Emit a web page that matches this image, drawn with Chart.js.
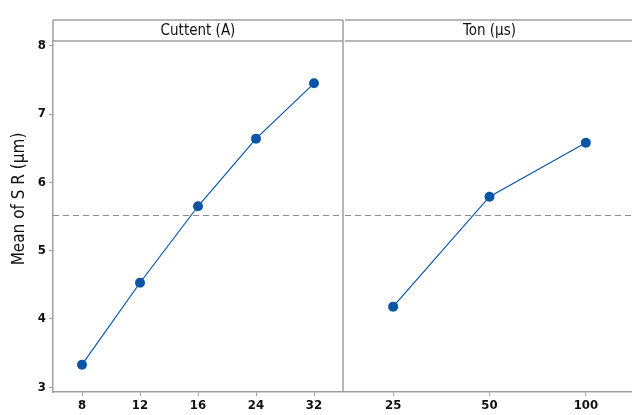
<!DOCTYPE html>
<html>
<head>
<meta charset="utf-8">
<script src="https://cdn.jsdelivr.net/npm/chart.js@4/dist/chart.umd.min.js"></script>
<style>
  html, body { margin: 0; padding: 0; background: #fff; overflow: hidden; }
  #wrap { position: relative; width: 632px; height: 415px; overflow: hidden; }
  canvas { position: absolute; top: 0; }
</style>
</head>
<body>
<div id="wrap">
  <canvas id="canvasTon" width="299" height="415" style="left:340px"></canvas>
  <canvas id="canvasCurrent" width="348" height="415" style="left:0px"></canvas>
</div>
<script>
// data
var currentLabels = ["8", "12", "16", "24", "32"];
var currentMeans = [3.33, 4.53, 5.65, 6.64, 7.45];
var tonLabels = ["25", "50", "100"];
var tonMeans = [4.18, 5.79, 6.58];
var yTicks = [3, 4, 5, 6, 7, 8];
var grandMean = 5.52;
var panelNames = ["Cuttent (A)", "Ton (\u00b5s)"];
var yTitle = "Mean of S R (\u00b5m)";

var go = {};
go.fontFamily = "'DejaVu Sans Condensed', 'Liberation Sans Narrow', sans-serif";
go.gray = "#a0a0a0";
go.blue = "#0b55a5";

// draws the panel frame, the header strip and the dashed grand mean line
var panelPlugin = {
    id: "panel",
    afterDraw: function (chart, args, opts) {
        var ctx = chart.ctx;
        var a = chart.chartArea;
        var y = chart.scales.y;
        var top = a.top - 21;
        ctx.save();

        // mean line
        var ym = y.getPixelForValue(grandMean);
        ctx.strokeStyle = "#8c8c8c";
        ctx.lineWidth = 1;
        ctx.setLineDash([6, 4]);
        ctx.beginPath();
        ctx.moveTo(a.left, Math.round(ym) + 0.5);
        ctx.lineTo(a.right, Math.round(ym) + 0.5);
        ctx.stroke();
        ctx.setLineDash([]);

        // frame + strip (left edge only on the first panel, the right
        // panel shares the divider drawn by the left one)
        ctx.strokeStyle = go.gray;
        ctx.lineWidth = 1.5;
        ctx.beginPath();
        ctx.moveTo(a.left, top);
        ctx.lineTo(a.right, top);
        ctx.moveTo(a.left, a.top);
        ctx.lineTo(a.right, a.top);
        ctx.moveTo(a.right, top);
        ctx.lineTo(a.right, a.bottom);
        if (opts.yTitle) {
            ctx.moveTo(a.left, top);
            ctx.lineTo(a.left, a.top);
        }
        ctx.stroke();

        ctx.fillStyle = "#111";
        ctx.font = "15px " + go.fontFamily;
        ctx.textAlign = "center";
        ctx.textBaseline = "middle";
        ctx.fillText(opts.title, (a.left + a.right) / 2, top + 11);

        // y axis title, only on the first panel
        if (opts.yTitle) {
            ctx.translate(20, 199);
            ctx.rotate(-Math.PI / 2);
            ctx.font = "17px " + go.fontFamily;
            ctx.fillText(opts.yTitle, 0, 0);
        }
        ctx.restore();
    }
};

function makeConfig(labels, values, title, showY) {
    return {
        type: "line",
        data: {
            labels: labels,
            datasets: [{
                data: values,
                borderColor: go.blue,
                backgroundColor: go.blue,
                borderWidth: 1.2,
                pointRadius: 5,
                pointHoverRadius: 5,
                pointBorderWidth: 0,
                tension: 0
            }]
        },
        options: {
            responsive: false,
            animation: false,
            devicePixelRatio: 1,
            layout: { padding: { top: 41, right: 0, left: 0, bottom: 0 } },
            plugins: {
                legend: { display: false },
                tooltip: { enabled: false },
                panel: { title: title, yTitle: showY ? yTitle : null }
            },
            scales: {
                x: {
                    type: "category",
                    offset: true,
                    border: { display: true, color: go.gray, width: 1.5 },
                    grid: { display: true, drawOnChartArea: false, drawTicks: true, tickLength: 4, color: go.gray },
                    ticks: {
                        color: "#111",
                        padding: 2,
                        maxRotation: 0,
                        font: { family: go.fontFamily, size: 13, weight: "bold" }
                    },
                    afterFit: function (scale) { scale.height = 23; }
                },
                y: {
                    display: showY,
                    min: 2.93,
                    max: 8.07,
                    border: { display: true, color: go.gray, width: 1.5 },
                    grid: { display: true, drawOnChartArea: false, drawTicks: true, tickLength: 4, color: go.gray },
                    afterBuildTicks: function (scale) {
                        scale.ticks = yTicks.map(function (v) { return { value: v }; });
                    },
                    ticks: {
                        color: "#111",
                        padding: 3,
                        font: { family: go.fontFamily, size: 13, weight: "bold" }
                    },
                    afterFit: function (scale) { if (showY) scale.width = 53; }
                }
            }
        },
        plugins: [panelPlugin]
    };
}

go.chart2 = new Chart(document.getElementById("canvasTon").getContext("2d"),
    makeConfig(tonLabels, tonMeans, panelNames[1], false));
go.chart1 = new Chart(document.getElementById("canvasCurrent").getContext("2d"),
    makeConfig(currentLabels, currentMeans, panelNames[0], true));
</script>
</body>
</html>
